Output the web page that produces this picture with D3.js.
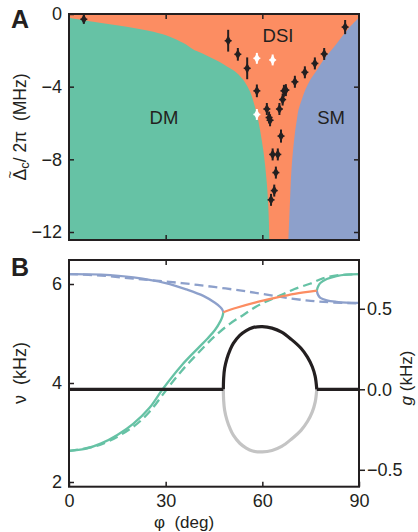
<!DOCTYPE html>
<html>
<head>
<meta charset="utf-8">
<script src="https://cdn.jsdelivr.net/npm/d3@7"></script>
<style>
  body { margin: 0; background: #fff; }
  text { font-family: "Liberation Sans", Arial, sans-serif; fill: #231f20; }
</style>
</head>
<body>
<div id="chart"></div>
<script>
// ---- panel A: phase boundaries [phi (deg), detuning (MHz)]
const dmBoundary = [[0,-0.2],[7.5,-0.42],[17.9,-0.7],[26.2,-0.98],[31.3,-1.25],[35.5,-1.6],[38.6,-1.95],
  [40.7,-2.12],[43.8,-2.38],[46.9,-2.65],[48.9,-2.87],[51,-3.1],[53.1,-3.42],[54.6,-3.75],[56.2,-4.28],
  [57.7,-5.11],[58.7,-5.84],[60.3,-7.5],[61.4,-9.33],[61.9,-10.8],[62.2,-12.45]];
const smBoundary = [[90,-0.2],[87.2,-0.7],[85.1,-1.16],[83.1,-1.62],[81,-2.08],[78.9,-2.54],[76.9,-3.09],
  [74.8,-3.64],[73.3,-4.19],[72.2,-4.74],[71.2,-5.29],[70.7,-5.84],[70.1,-6.58],[69.1,-8.42],[68.6,-10.25],[68.1,-12.45]];

// measured points
const ptPhi   = [4.6, 49.4, 52.4, 55.3, 58.3, 61.4, 62.1, 62.4, 65.3, 66.3, 66.7, 67.3, 70.1, 73.2, 76.3, 79.2, 85.7, 65.8, 63.2, 64.8, 64.2, 63.7, 62.7];
const ptDelta = [-0.29,-1.47,-2.22,-2.99,-4.23,-5.23,-5.7,-5.85,-5.23,-4.71,-4.23,-4.19,-3.73,-3.21,-2.72,-2.2,-0.72,-6.72,-7.73,-7.73,-8.73,-9.72,-10.23];
const ptErr   = [0.25, 0.6, 0.35, 0.6, 0.35, 0.33, 0.33, 0.33, 0.33, 0.33, 0.33, 0.33, 0.33, 0.33, 0.33, 0.33, 0.39, 0.36, 0.33, 0.33, 0.33, 0.33, 0.33];
const whitePhi   = [58.3, 63.2, 58.3];
const whiteDelta = [-2.44, -2.53, -5.53];
const whiteErr   = [0.3, 0.3, 0.3];

// ---- panel B: frequencies nu (kHz) and gain g (kHz) vs phi
const blueUpper  = [[0,6.2],[10,6.19],[20,6.135],[30,6.02],[36.5,5.89],[41.7,5.76],[45.3,5.62],[47,5.53],[47.6,5.48],[47.9,5.43]];
const greenLower = [[0,2.63],[5,2.67],[10,2.78],[15,2.95],[20,3.18],[25,3.5],[29,3.87],[35,4.36],[40,4.7],[43,4.9],[45.3,5.07],[47,5.25],[47.6,5.34],[47.9,5.43]];
const orangeMid  = [[47.9,5.43],[52,5.52],[58,5.63],[64,5.72],[70,5.8],[76.9,5.865]];
const greenRight = [[76.9,5.865],[77.3,5.95],[78,6.02],[80,6.1],[83,6.16],[86,6.19],[90,6.2]];
const blueRight  = [[76.9,5.865],[77.3,5.78],[78,5.72],[80,5.67],[83,5.64],[86,5.625],[90,5.62]];
const blueDashed = [[0,6.2],[10,6.17],[20,6.11],[30,6.05],[37.5,6.0],[45,5.94],[53,5.87],[60,5.8],[68.6,5.71],[75,5.66],[81,5.63],[90,5.61]];
const greenDashed = [[0,2.63],[10,2.76],[20,3.12],[25,3.42],[30.3,3.87],[35,4.25],[40,4.6],[45,4.93],[50,5.2],[54,5.37],
  [58,5.54],[62,5.67],[66,5.78],[70,5.9],[75,6.01],[79,6.12],[84,6.18],[90,6.2]];
const gainPhi = [47.9, 48.0, 48.3, 49, 50, 51, 53, 55, 57, 60, 63, 66, 69, 72, 74, 75.5, 76.4, 76.9];
const gainVal = [0, 0.07, 0.13, 0.19, 0.245, 0.285, 0.335, 0.365, 0.383, 0.389, 0.38, 0.355, 0.31, 0.255, 0.2, 0.14, 0.08, 0];
const gainFlat = [[[0, 0], [47.9, 0]], [[76.9, 0], [90, 0]]];

const green = "#66c2a5", orange = "#fc8d62", blue = "#8da0cb", ink = "#231f20";

const svg = d3.select("#chart").append("svg")
  .attr("width", 418).attr("height", 532);

const x = d3.scaleLinear().domain([0, 90]).range([69, 359]);
const yA = d3.scaleLinear().domain([-12.44, 0]).range([240, 14]);
const yB = d3.scaleLinear().domain([1.905, 6.485]).range([486.7, 260]);
const gB = d3.scaleLinear().domain([-0.605, 0.803]).range([486.7, 260]);

function styleAxis(g) {
  g.select(".domain").remove();
  g.attr("font-family", '"Liberation Sans", Arial, sans-serif')
    .attr("font-size", 18).attr("color", ink);
  g.selectAll(".tick line").attr("stroke-width", 1.5);
}

// ---------- panel A
svg.append("clipPath").attr("id", "clipA").append("rect")
  .attr("x", x(0)).attr("y", yA(0)).attr("width", x(90) - x(0)).attr("height", yA(-12.44) - yA(0));

const pA = svg.append("g").attr("clip-path", "url(#clipA)");
pA.append("rect").attr("x", x(0)).attr("y", yA(0)).attr("width", x(90) - x(0))
  .attr("height", yA(-12.44) - yA(0)).attr("fill", orange);

const bLine = d3.line().x(d => x(d[0])).y(d => yA(d[1])).curve(d3.curveCatmullRom.alpha(0.5));
pA.append("path")
  .attr("d", bLine(dmBoundary) + `L${x(0)},${yA(-12.44)}Z`)
  .attr("fill", green);
pA.append("path")
  .attr("d", bLine(smBoundary) + `L${x(90)},${yA(-12.44)}Z`)
  .attr("fill", blue);

function drawPoints(phis, deltas, errs, color) {
  const g = svg.append("g");
  phis.forEach((p, i) => {
    const cx = x(p), cy = yA(deltas[i]);
    g.append("line").attr("x1", cx).attr("x2", cx)
      .attr("y1", yA(deltas[i] - errs[i])).attr("y2", yA(deltas[i] + errs[i]))
      .attr("stroke", color).attr("stroke-width", 2);
    g.append("line").attr("x1", cx - 3.5).attr("x2", cx + 3.5).attr("y1", cy).attr("y2", cy)
      .attr("stroke", color).attr("stroke-width", 1.5);
    g.append("path").attr("d", d3.symbol(d3.symbolDiamond, 30)())
      .attr("transform", `translate(${cx},${cy})`).attr("fill", color);
  });
}
drawPoints(ptPhi, ptDelta, ptErr, ink);
drawPoints(whitePhi, whiteDelta, whiteErr, "#fff");

svg.append("text").attr("x", 278).attr("y", 42).attr("text-anchor", "middle").attr("font-size", 18.5).text("DSI");
svg.append("text").attr("x", 164).attr("y", 124).attr("text-anchor", "middle").attr("font-size", 18.5).text("DM");
svg.append("text").attr("x", 331).attr("y", 124).attr("text-anchor", "middle").attr("font-size", 18.5).text("SM");

svg.append("g").attr("transform", "translate(69,0)")
  .call(d3.axisLeft(yA).tickValues([0, -4, -8, -12]).tickSize(-5).tickPadding(7).tickFormat(d3.format("d")))
  .call(styleAxis);
svg.append("g").attr("transform", "translate(359,0)")
  .call(d3.axisRight(yA).tickValues([-4, -8, -12]).tickSize(-5).tickFormat("")).call(styleAxis);
svg.append("g").attr("transform", `translate(0,${yA(0)})`)
  .call(d3.axisTop(x).tickValues([30, 60]).tickSize(-5).tickFormat("")).call(styleAxis);
svg.append("g").attr("transform", `translate(0,${yA(-12.44)})`)
  .call(d3.axisBottom(x).tickValues([30, 60]).tickSize(-5).tickFormat("")).call(styleAxis);
svg.append("rect").attr("x", x(0)).attr("y", yA(0)).attr("width", x(90) - x(0))
  .attr("height", yA(-12.44) - yA(0)).attr("fill", "none").attr("stroke", ink).attr("stroke-width", 2);

// y label of A, with a tilde placed over the Delta
const labAg = svg.append("g").attr("transform", "translate(26,127) rotate(-90)");
const labA = labAg.append("text").attr("text-anchor", "middle").attr("font-size", 17.5).attr("xml:space", "preserve");
labA.append("tspan").text("\u0394");
labA.append("tspan").attr("font-size", 13).attr("dy", 3).text("c");
labA.append("tspan").attr("dy", -3).text("/ 2\u03c0  (MHz)");
const d0 = labA.node().getStartPositionOfChar(0);
labAg.append("text").attr("x", d0.x + 5.8).attr("y", d0.y - 12).attr("text-anchor", "middle")
  .attr("font-size", 13).text("~");

// ---------- panel B
const nuLine = d3.line().x(d => x(d[0])).y(d => yB(d[1])).curve(d3.curveCatmullRom.alpha(0.5));
const gLine = d3.line().x(d => x(d[0])).y(d => gB(d[1])).curve(d3.curveCatmullRom.alpha(0.5));

const pB = svg.append("g");
pB.append("path").attr("d", nuLine(blueDashed)).attr("fill", "none").attr("stroke", blue)
  .attr("stroke-width", 2.3).attr("stroke-dasharray", "9,5");
pB.append("path").attr("d", nuLine(greenDashed)).attr("fill", "none").attr("stroke", green)
  .attr("stroke-width", 2.3).attr("stroke-dasharray", "9,5");
[[blueUpper, blue], [greenLower, green], [greenRight, green], [blueRight, blue], [orangeMid, orange]]
  .forEach(([d, c]) => pB.append("path").attr("d", nuLine(d)).attr("fill", "none")
    .attr("stroke", c).attr("stroke-width", 2.3));

const gainUp = gainPhi.map((p, i) => [p, gainVal[i]]);
const gainDown = gainPhi.map((p, i) => [p, -gainVal[i]]);
pB.append("path").attr("d", gLine(gainDown)).attr("fill", "none").attr("stroke", "#c4c4c4").attr("stroke-width", 3.2);
pB.append("path").attr("d", gLine(gainUp)).attr("fill", "none").attr("stroke", ink).attr("stroke-width", 3.2);
gainFlat.forEach(seg => pB.append("path").attr("d", d3.line().x(d => x(d[0])).y(d => gB(d[1]))(seg))
  .attr("fill", "none").attr("stroke", ink).attr("stroke-width", 3.2));

svg.append("g").attr("transform", "translate(69,0)")
  .call(d3.axisLeft(yB).tickValues([2, 4, 6]).tickSize(-5).tickPadding(7).tickFormat(d3.format("d")))
  .call(styleAxis);
svg.append("g").attr("transform", "translate(359,0)")
  .call(d3.axisRight(gB).tickValues([-0.5, 0, 0.5]).tickSize(6).tickPadding(2).tickFormat(d3.format(".1f")))
  .call(styleAxis);
svg.append("g").attr("transform", "translate(0,260)")
  .call(d3.axisTop(x).tickValues([30, 60]).tickSize(-5).tickFormat("")).call(styleAxis);
svg.append("g").attr("transform", "translate(0,486.7)")
  .call(d3.axisBottom(x).tickValues([0, 30, 60, 90]).tickSize(-5).tickPadding(8)).call(styleAxis);
svg.append("rect").attr("x", x(0)).attr("y", 260).attr("width", x(90) - x(0))
  .attr("height", 226.7).attr("fill", "none").attr("stroke", ink).attr("stroke-width", 2);

svg.append("text").attr("transform", "translate(26,373) rotate(-90)")
  .attr("text-anchor", "middle").attr("font-size", 18).attr("xml:space", "preserve").text("\u03bd  (kHz)");
const labG = svg.append("text").attr("transform", "translate(412,378) rotate(-90)")
  .attr("text-anchor", "middle").attr("font-size", 17).attr("xml:space", "preserve");
labG.append("tspan").attr("font-style", "italic").text("g");
labG.append("tspan").text(" (kHz)");
svg.append("text").attr("x", 184).attr("y", 528).attr("text-anchor", "middle").attr("font-size", 17)
  .attr("xml:space", "preserve").text("\u03c6  (deg)");

// panel letters
svg.append("text").attr("x", 11).attr("y", 28).attr("font-size", 25).attr("font-weight", "bold")
  .attr("font-family", '"Liberation Sans Narrow", "Liberation Sans", Arial, sans-serif').text("A");
svg.append("text").attr("x", 11).attr("y", 276).attr("font-size", 25).attr("font-weight", "bold")
  .attr("font-family", '"Liberation Sans Narrow", "Liberation Sans", Arial, sans-serif').text("B");
</script>
</body>
</html>
